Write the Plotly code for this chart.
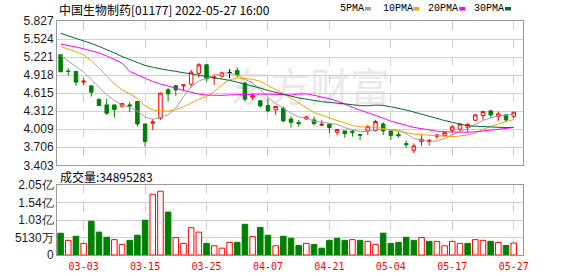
import plotly.graph_objects as go

# ---------------- data ----------------
dates = ["2022-02-28", "2022-03-01", "2022-03-02", "2022-03-03", "2022-03-04", "2022-03-07", "2022-03-08",
         "2022-03-09", "2022-03-10", "2022-03-11", "2022-03-14", "2022-03-15", "2022-03-16", "2022-03-17",
         "2022-03-18", "2022-03-21", "2022-03-22", "2022-03-23", "2022-03-24", "2022-03-25", "2022-03-28",
         "2022-03-29", "2022-03-30", "2022-03-31", "2022-04-01", "2022-04-04", "2022-04-06", "2022-04-07",
         "2022-04-08", "2022-04-11", "2022-04-12", "2022-04-13", "2022-04-14", "2022-04-19", "2022-04-20",
         "2022-04-21", "2022-04-22", "2022-04-25", "2022-04-26", "2022-04-27", "2022-04-28", "2022-04-29",
         "2022-05-03", "2022-05-04", "2022-05-05", "2022-05-06", "2022-05-10", "2022-05-11", "2022-05-12",
         "2022-05-13", "2022-05-16", "2022-05-17", "2022-05-18", "2022-05-19", "2022-05-20", "2022-05-23",
         "2022-05-24", "2022-05-25", "2022-05-26", "2022-05-27"]

opens = [5.26, 4.985, 4.979, 4.80, 4.738, 4.508, 4.418, 4.418, 4.396, 4.418,
         4.474, 4.098, 4.11, 4.194, 4.671, 4.738, 4.738, 4.766, 4.946, 5.092,
         4.867, 4.901, 4.963, 4.996, 4.783, 4.547, 4.486, 4.407, 4.334, 4.362,
         4.182, 4.121, 4.182, 4.166, 4.076, 4.098, 3.958, 3.981, 3.975, 3.919,
         3.981, 3.986, 4.098, 3.981, 3.918, 3.767, 3.655, 3.801, 3.801, 3.891,
         3.902, 3.992, 4.009, 4.042, 4.16, 4.239, 4.317, 4.222, 4.25, 4.227]
highs = [5.27, 5.035, 4.98, 4.867, 4.738, 4.53, 4.519, 4.418, 4.446, 4.463,
         4.485, 4.098, 4.182, 4.626, 4.699, 4.755, 4.755, 5.007, 5.12, 5.103,
         4.934, 4.979, 5.019, 5.047, 4.811, 4.615, 4.502, 4.519, 4.401, 4.39,
         4.222, 4.166, 4.233, 4.222, 4.166, 4.098, 4.009, 3.981, 4.0, 3.919,
         4.082, 4.166, 4.126, 3.981, 3.969, 3.818, 3.773, 3.913, 3.846, 3.924,
         3.964, 4.082, 4.11, 4.11, 4.261, 4.317, 4.334, 4.306, 4.267, 4.295]
lows = [4.965, 4.912, 4.744, 4.744, 4.558, 4.407, 4.25, 4.205, 4.373, 4.295,
        4.053, 3.717, 3.997, 4.166, 4.474, 4.57, 4.654, 4.71, 4.878, 4.811,
        4.755, 4.867, 4.867, 4.878, 4.474, 4.502, 4.373, 4.295, 4.25, 4.126,
        4.037, 4.053, 4.166, 4.07, 4.065, 3.941, 3.913, 3.868, 3.885, 3.829,
        3.913, 3.969, 3.913, 3.829, 3.868, 3.70, 3.604, 3.734, 3.734, 3.846,
        3.885, 3.952, 3.981, 3.958, 4.149, 4.166, 4.205, 4.149, 4.138, 4.194]
closes = [4.975, 4.98, 4.80, 4.817, 4.631, 4.407, 4.278, 4.34, 4.441, 4.401,
          4.098, 3.801, 4.132, 4.615, 4.603, 4.671, 4.755, 4.968, 5.092, 4.856,
          4.884, 4.958, 4.963, 4.923, 4.514, 4.57, 4.401, 4.317, 4.39, 4.149,
          4.126, 4.104, 4.216, 4.104, 4.093, 4.037, 4.003, 3.936, 3.958, 3.908,
          4.053, 4.138, 3.981, 3.905, 3.90, 3.75, 3.728, 3.84, 3.823, 3.913,
          3.952, 4.048, 4.095, 4.088, 4.25, 4.306, 4.25, 4.267, 4.166, 4.295]
volumes = [63800000, 43000000, 55000000, 34000000, 99000000, 67000000, 52000000, 45000000, 31000000, 43000000,
           58000000, 102000000, 178000000, 187000000, 126000000, 51000000, 34000000, 80000000, 67000000, 34000000,
           27000000, 20000000, 37000000, 37000000, 90000000, 54000000, 81000000, 58000000, 27000000, 55000000,
           49000000, 28000000, 34000000, 31000000, 20000000, 43000000, 49000000, 43000000, 45000000, 43000000,
           40000000, 31000000, 64000000, 34000000, 37000000, 52000000, 43000000, 51000000, 40000000, 40000000,
           27000000, 40000000, 34000000, 34000000, 45000000, 43000000, 40000000, 37000000, 28000000, 34895283]

# moving-average values before a full window exists
ma5_head = [5.25, 5.15, 5.06, 4.97]
ma10_head = [5.40, 5.36, 5.31, 5.26, 5.16, 5.04, 4.90, 4.77, 4.67]
ma20_head = [5.44, 5.42, 5.39, 5.36, 5.33, 5.29, 5.24, 5.18, 5.12, 4.98,
             4.92, 4.86, 4.81, 4.77, 4.74, 4.70, 4.66, 4.63, 4.60]
ma30_head = [5.62, 5.58, 5.54, 5.49, 5.45, 5.40, 5.35, 5.29, 5.23, 5.18,
             5.13, 5.08, 5.05, 5.02, 5.00, 4.98, 4.96, 4.94, 4.92, 4.90,
             4.88, 4.86, 4.83, 4.80, 4.77, 4.73, 4.70, 4.66, 4.63]

tick_dates = ["03-03", "03-15", "03-25", "04-07", "04-21", "05-04", "05-17", "05-27"]
price_ticks = [3.403, 3.706, 4.009, 4.312, 4.615, 4.918, 5.221, 5.524, 5.827]
vol_tickvals = [0, 51300000, 102600000, 153900000, 205200000]
vol_ticktext = ["0", "5130万", "1.03亿", "1.54亿", "2.05亿"]
stock_name = "中国生物制药[01177]"
ma_names = ["5PMA", "10PMA", "20PMA", "30PMA"]
ma_colors = ["#a0a0a0", "#f5a300", "#ff00ff", "#006e2e"]

# ---------------- layout helpers ----------------
W, H = 578, 276
ML, MR, MT, MB = 57, 55, 21, 21
PW, PH = W - ML - MR, H - MT - MB


def px_x(p):
    return (p - ML) / PW


def px_y(p):
    return (H - MB - p) / PH


RED, GREEN = "#ff0000", "#008000"
idx = list(range(len(dates)))


def moving_avg(head, n):
    vals = list(head)
    for i in range(len(head), len(closes)):
        vals.append(sum(closes[i - n + 1:i + 1]) / n)
    return vals


mas = [moving_avg(ma5_head, 5), moving_avg(ma10_head, 10),
       moving_avg(ma20_head, 20), moving_avg(ma30_head, 30)]

fig = go.Figure()


def candle_trace(sel, col, fill):
    return go.Candlestick(
        x=[idx[i] for i in sel], open=[opens[i] for i in sel], high=[highs[i] for i in sel],
        low=[lows[i] for i in sel], close=[closes[i] for i in sel],
        increasing=dict(line=dict(color=col, width=1), fillcolor=fill),
        decreasing=dict(line=dict(color=col, width=1), fillcolor=fill),
        whiskerwidth=0, hoverinfo="skip", showlegend=False, xaxis="x", yaxis="y")


up = [i for i in idx if closes[i] > opens[i]]
down = [i for i in idx if closes[i] < opens[i]]
flat = [i for i in idx if closes[i] == opens[i]]
fig.add_trace(candle_trace(up, RED, "#ffffff"))
fig.add_trace(candle_trace(down, GREEN, GREEN))
if flat:
    fig.add_trace(candle_trace(flat, "#000000", "#000000"))

for ma, col in zip(mas, ma_colors):
    fig.add_trace(go.Scatter(x=idx, y=ma, mode="lines", line=dict(color=col, width=1),
                             hoverinfo="skip", showlegend=False, xaxis="x", yaxis="y"))

vol_up = [i > 0 and closes[i] >= closes[i - 1] for i in idx]
fig.add_trace(go.Bar(
    x=idx, y=volumes,
    marker=dict(color=["#ffffff" if u else GREEN for u in vol_up],
                line=dict(color=[RED if u else GREEN for u in vol_up], width=1)),
    hoverinfo="skip", showlegend=False, xaxis="x2", yaxis="y2"))

tickpos = [dates.index("2022-" + d) for d in tick_dates]
grid = "#d0d0d0"
border = "#999999"
lab_font = dict(family="Liberation Sans", size=12, color="#1a1a1a")

fig.update_layout(
    width=W, height=H, autosize=False,
    margin=dict(l=ML, r=MR, t=MT, b=MB, pad=0, autoexpand=False),
    paper_bgcolor="white", plot_bgcolor="white",
    bargap=0.28, boxgap=0.35,
    xaxis=dict(domain=[0, 1], anchor="y", range=[-0.47, len(dates) + 0.21],
               tickvals=tickpos, showticklabels=False, ticks="", automargin=False,
               showgrid=True, gridcolor=grid, griddash="dash", gridwidth=1,
               showline=True, mirror=True, linecolor=border, linewidth=1,
               zeroline=False, rangeslider=dict(visible=False), fixedrange=True),
    xaxis2=dict(domain=[0, 1], anchor="y2", matches="x", range=[-0.47, len(dates) + 0.21],
                tickvals=tickpos, ticktext=tick_dates, ticks="", ticklabelstandoff=2,
                automargin=False,
                tickfont=dict(family="DejaVu Sans Mono", size=10, color=RED),
                showgrid=True, gridcolor=grid, griddash="dash", gridwidth=1,
                showline=True, mirror=True, linecolor=border, linewidth=1, zeroline=False),
    yaxis=dict(domain=[px_y(165.3), 1.0], anchor="x", range=[price_ticks[0], price_ticks[-1]],
               tickvals=price_ticks, ticktext=["%.3f" % v for v in price_ticks], ticks="",
               automargin=False,
               tickfont=lab_font, showgrid=True, gridcolor=grid, gridwidth=1,
               showline=True, mirror=True, linecolor=border, linewidth=1, zeroline=False),
    yaxis2=dict(domain=[0, px_y(185)], anchor="x2", range=[0, vol_tickvals[-1]],
                tickvals=vol_tickvals, ticktext=vol_ticktext, ticks="", automargin=False,
                tickfont=lab_font, showgrid=True, gridcolor=grid, gridwidth=1,
                showline=True, mirror=True, linecolor=border, linewidth=1, zeroline=False),
)

annotations = [
    dict(text=f"{stock_name} {dates[-1]} 16:00", x=0, y=px_y(9.5), xref="paper", yref="paper",
         xanchor="left", yanchor="middle", showarrow=False,
         font=dict(family="Noto Sans CJK SC", size=12, color="#000000")),
    dict(text=f"成交量:{volumes[-1]}", x=px_x(57.5), y=px_y(176.5), xref="paper", yref="paper",
         xanchor="left", yanchor="middle", showarrow=False,
         font=dict(family="Noto Sans CJK SC", size=12, color="#000000")),
]
leg_x = [338.3, 380.7, 426.0, 471.7]
leg_box = [365.0, 413.3, 459.3, 505.0]
shapes = []
for name, col, lx, bx in zip(ma_names, ma_colors, leg_x, leg_box):
    annotations.append(dict(text=name, x=px_x(lx), y=px_y(9), xref="paper", yref="paper",
                            xanchor="left", yanchor="middle", showarrow=False,
                            font=dict(family="Liberation Mono", size=10, color="#000000")))
    shapes.append(dict(type="rect", xref="paper", yref="paper", x0=px_x(bx), x1=px_x(bx + 6),
                       y0=px_y(10.5), y1=px_y(7.0), fillcolor=col, line=dict(width=0)))

# watermark
shapes.append(dict(type="rect", xref="paper", yref="paper", x0=px_x(235), x1=px_x(385),
                   y0=px_y(114), y1=px_y(68), line=dict(width=0), fillcolor="rgba(0,0,0,0)",
                   layer="below",
                   label=dict(text="东方财富", font=dict(family="Noto Sans CJK SC", size=40, color="#e9e9e9"),
                              textposition="middle center")))

fig.update_layout(annotations=annotations, shapes=shapes)
fig.write_html("out.html")
